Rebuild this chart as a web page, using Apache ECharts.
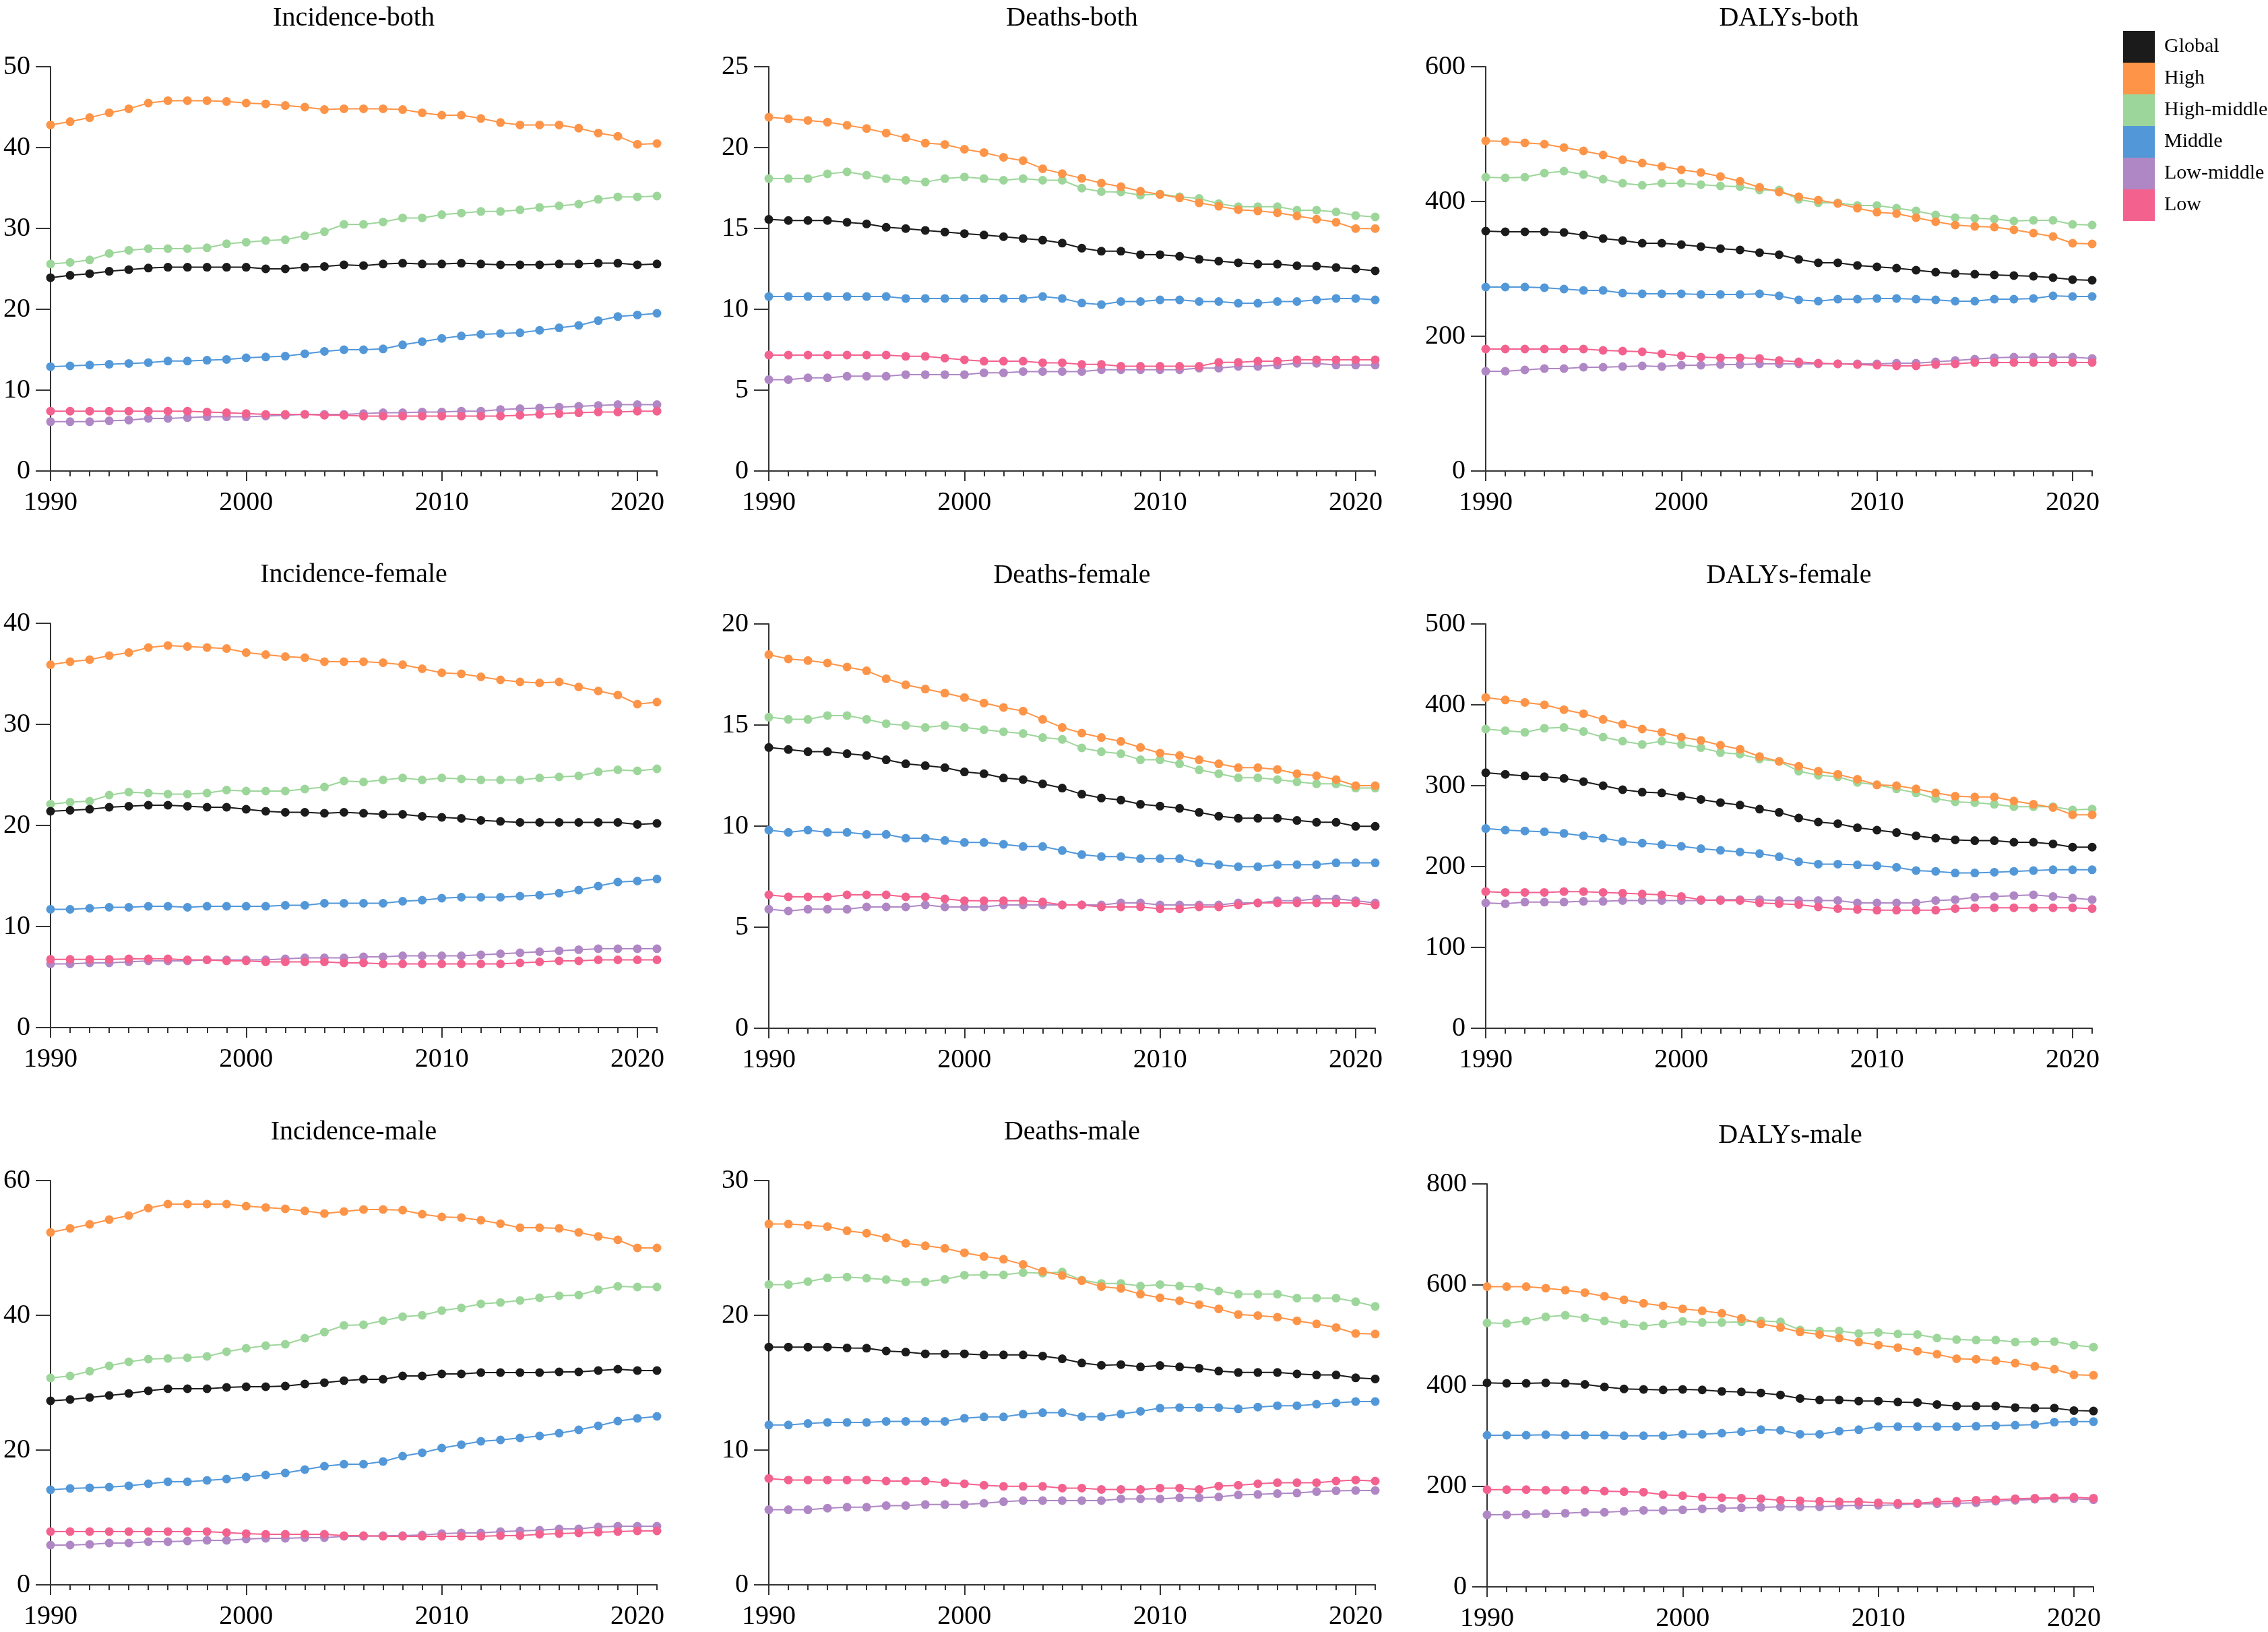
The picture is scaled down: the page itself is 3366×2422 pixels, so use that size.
<!DOCTYPE html>
<html><head><meta charset="utf-8">
<script src="https://cdn.jsdelivr.net/npm/echarts@6/dist/echarts.min.js"></script>
<style>html,body{margin:0;padding:0;background:#fff}#c{width:3366px;height:2422px}</style>
</head><body><div id="c"></div>
<script>
const years = ['1990','1991','1992','1993','1994','1995','1996','1997','1998','1999','2000','2001','2002','2003','2004','2005','2006','2007','2008','2009','2010','2011','2012','2013','2014','2015','2016','2017','2018','2019','2020','2021'];
const seriesNames = ['Global','High','High-middle','Middle','Low-middle','Low'];
const panelTitles = ['Incidence-both','Deaths-both','DALYs-both','Incidence-female','Deaths-female','DALYs-female','Incidence-male','Deaths-male','DALYs-male'];
const yMax = [50,25,600,40,20,500,60,30,800];
const yStep = [10,5,200,10,5,100,20,10,200];

// Incidence-both
const incBoth_Global = [23.9,24.2,24.4,24.7,24.9,25.1,25.2,25.2,25.2,25.2,25.2,25.0,25.0,25.2,25.3,25.5,25.4,25.6,25.7,25.6,25.6,25.7,25.6,25.5,25.5,25.5,25.6,25.6,25.7,25.7,25.5,25.6];
const incBoth_High = [42.8,43.2,43.7,44.3,44.8,45.5,45.8,45.8,45.8,45.7,45.5,45.4,45.2,45.0,44.7,44.8,44.8,44.8,44.7,44.3,44.0,44.0,43.6,43.1,42.8,42.8,42.8,42.4,41.8,41.4,40.4,40.5];
const incBoth_HighMid = [25.6,25.8,26.1,26.9,27.3,27.5,27.5,27.5,27.6,28.1,28.3,28.5,28.6,29.1,29.6,30.5,30.5,30.8,31.3,31.3,31.7,31.9,32.1,32.1,32.3,32.6,32.8,33.0,33.6,33.9,33.9,34.0];
const incBoth_Middle = [12.9,13.0,13.1,13.2,13.3,13.4,13.6,13.6,13.7,13.8,14.0,14.1,14.2,14.5,14.8,15.0,15.0,15.1,15.6,16.0,16.4,16.7,16.9,17.0,17.1,17.4,17.7,18.0,18.6,19.1,19.3,19.5];
const incBoth_LowMid = [6.1,6.1,6.1,6.2,6.3,6.5,6.5,6.6,6.7,6.7,6.7,6.8,6.9,7.0,7.0,7.0,7.1,7.2,7.2,7.3,7.3,7.4,7.4,7.6,7.7,7.8,7.9,8.0,8.1,8.2,8.2,8.2];
const incBoth_Low = [7.4,7.4,7.4,7.4,7.4,7.4,7.4,7.4,7.3,7.2,7.1,7.0,7.0,7.0,6.9,6.9,6.8,6.8,6.8,6.8,6.8,6.8,6.8,6.8,6.9,7.0,7.1,7.2,7.3,7.3,7.4,7.4];

// Deaths-both
const dthBoth_Global = [15.56,15.49,15.49,15.49,15.38,15.28,15.07,14.99,14.88,14.78,14.68,14.59,14.49,14.38,14.28,14.09,13.78,13.59,13.59,13.38,13.38,13.28,13.09,12.98,12.88,12.79,12.79,12.69,12.67,12.58,12.5,12.38];
const dthBoth_High = [21.88,21.78,21.68,21.57,21.38,21.18,20.9,20.6,20.28,20.19,19.9,19.69,19.4,19.19,18.69,18.39,18.1,17.8,17.58,17.3,17.1,16.89,16.58,16.37,16.16,16.08,15.97,15.77,15.57,15.38,14.99,14.99];
const dthBoth_HighMid = [18.08,18.08,18.08,18.37,18.5,18.29,18.08,17.98,17.87,18.08,18.18,18.08,17.98,18.08,17.98,17.98,17.49,17.27,17.25,17.06,17.13,16.96,16.85,16.53,16.34,16.34,16.34,16.13,16.13,16.02,15.8,15.71];
const dthBoth_Middle = [10.79,10.79,10.79,10.79,10.79,10.79,10.79,10.67,10.67,10.67,10.67,10.67,10.67,10.67,10.79,10.67,10.39,10.29,10.48,10.48,10.58,10.58,10.48,10.48,10.37,10.37,10.48,10.48,10.58,10.67,10.67,10.58];
const dthBoth_LowMid = [5.65,5.65,5.76,5.76,5.86,5.86,5.86,5.96,5.96,5.96,5.96,6.07,6.07,6.15,6.15,6.15,6.15,6.26,6.26,6.26,6.26,6.26,6.36,6.36,6.47,6.47,6.55,6.66,6.66,6.55,6.55,6.55];
const dthBoth_Low = [7.17,7.17,7.17,7.17,7.17,7.17,7.17,7.09,7.09,6.98,6.88,6.79,6.79,6.79,6.69,6.69,6.59,6.59,6.48,6.48,6.48,6.48,6.48,6.72,6.72,6.79,6.79,6.88,6.88,6.88,6.88,6.88];

// DALYs-both
const dalBoth_Global = [356,355,355,355,354,350,345,342,338,338,336,333,330,328,324,321,314,309,309,305,303,301,298,295,293,292,291,290,289,287,284,283];
const dalBoth_High = [490,489,487,485,480,475,469,462,457,452,447,443,437,430,421,414,407,402,397,390,384,382,376,370,365,363,362,358,353,348,338,337];
const dalBoth_HighMid = [436,435,436,442,445,440,433,427,424,427,427,425,423,422,417,417,403,398,398,394,394,390,386,380,376,375,374,371,372,372,366,365];
const dalBoth_Middle = [273,273,273,272,270,268,268,264,263,263,263,262,262,262,263,260,254,252,255,255,256,256,255,254,252,252,255,255,256,260,259,259];
const dalBoth_LowMid = [148,148,150,152,152,154,154,155,156,155,157,157,158,158,159,159,159,159,159,159,159,160,160,162,164,166,168,169,169,169,169,167];
const dalBoth_Low = [181,181,181,181,181,181,179,178,177,174,171,169,168,168,167,164,162,160,159,158,157,156,156,158,159,161,161,161,161,161,161,161];

// Incidence-female
const incFem_Global = [21.4,21.5,21.6,21.8,21.9,22.0,22.0,21.9,21.8,21.8,21.6,21.4,21.3,21.3,21.2,21.3,21.2,21.1,21.1,20.9,20.8,20.7,20.5,20.4,20.3,20.3,20.3,20.3,20.3,20.3,20.1,20.2];
const incFem_High = [35.9,36.2,36.4,36.8,37.1,37.6,37.8,37.7,37.6,37.5,37.1,36.9,36.7,36.6,36.2,36.2,36.2,36.1,35.9,35.5,35.1,35.0,34.7,34.4,34.2,34.1,34.2,33.7,33.3,32.9,32.0,32.2];
const incFem_HighMid = [22.1,22.3,22.4,23.0,23.3,23.2,23.1,23.1,23.2,23.5,23.4,23.4,23.4,23.6,23.8,24.4,24.3,24.5,24.7,24.5,24.7,24.6,24.5,24.5,24.5,24.7,24.8,24.9,25.3,25.5,25.4,25.6];
const incFem_Middle = [11.7,11.7,11.8,11.9,11.9,12.0,12.0,11.9,12.0,12.0,12.0,12.0,12.1,12.1,12.3,12.3,12.3,12.3,12.5,12.6,12.8,12.9,12.9,12.9,13.0,13.1,13.3,13.6,14.0,14.4,14.5,14.7];
const incFem_LowMid = [6.3,6.3,6.4,6.4,6.5,6.6,6.6,6.6,6.7,6.7,6.7,6.7,6.8,6.9,6.9,6.9,7.0,7.0,7.1,7.1,7.1,7.1,7.2,7.3,7.4,7.5,7.6,7.7,7.8,7.8,7.8,7.8];
const incFem_Low = [6.75,6.75,6.75,6.75,6.8,6.8,6.8,6.7,6.7,6.6,6.6,6.5,6.5,6.5,6.5,6.4,6.4,6.3,6.3,6.3,6.3,6.3,6.3,6.3,6.4,6.5,6.6,6.6,6.7,6.7,6.7,6.7];

// Deaths-female
const dthFem_Global = [13.89,13.79,13.68,13.68,13.58,13.49,13.28,13.08,12.99,12.89,12.68,12.59,12.38,12.3,12.09,11.88,11.58,11.39,11.29,11.08,10.99,10.88,10.68,10.49,10.39,10.39,10.39,10.28,10.19,10.19,9.99,9.99];
const dthFem_High = [18.48,18.27,18.19,18.07,17.87,17.68,17.29,16.99,16.78,16.58,16.36,16.09,15.87,15.69,15.28,14.88,14.6,14.38,14.19,13.89,13.61,13.49,13.28,13.08,12.89,12.89,12.8,12.59,12.49,12.3,12.0,12.0];
const dthFem_HighMid = [15.39,15.28,15.28,15.47,15.47,15.28,15.07,14.98,14.88,14.98,14.88,14.77,14.67,14.58,14.38,14.29,13.87,13.68,13.58,13.28,13.28,13.08,12.78,12.59,12.39,12.39,12.3,12.19,12.09,12.09,11.88,11.88];
const dthFem_Middle = [9.8,9.69,9.8,9.69,9.69,9.59,9.59,9.4,9.4,9.29,9.19,9.19,9.1,8.99,8.99,8.79,8.59,8.49,8.49,8.39,8.39,8.39,8.18,8.09,7.99,7.99,8.09,8.09,8.09,8.18,8.18,8.18];
const dthFem_LowMid = [5.89,5.8,5.89,5.89,5.89,6.0,6.0,6.0,6.1,6.0,6.0,6.0,6.1,6.1,6.1,6.1,6.1,6.1,6.2,6.2,6.1,6.1,6.1,6.1,6.2,6.2,6.31,6.31,6.4,6.4,6.31,6.2];
const dthFem_Low = [6.6,6.5,6.5,6.5,6.6,6.6,6.6,6.5,6.5,6.4,6.31,6.31,6.31,6.31,6.25,6.1,6.1,6.0,6.0,6.0,5.91,5.91,6.0,6.0,6.1,6.2,6.2,6.2,6.2,6.2,6.2,6.1];

// DALYs-female
const dalFem_Global = [316,314,312,311,309,305,300,295,292,291,287,283,279,276,271,267,260,255,253,248,245,242,238,235,233,232,232,230,230,228,224,224];
const dalFem_High = [409,406,403,400,394,389,382,376,370,366,360,356,350,345,336,330,324,318,314,308,301,300,296,291,287,286,286,281,277,273,264,264];
const dalFem_HighMid = [370,368,366,371,372,367,360,355,351,355,351,347,341,339,333,330,318,313,311,304,301,296,291,284,280,279,277,274,274,274,270,271];
const dalFem_Middle = [247,245,244,243,241,238,235,231,229,227,225,222,220,218,216,212,206,203,203,202,201,199,195,194,192,192,193,194,195,196,196,196];
const dalFem_LowMid = [155,154,156,156,156,157,157,158,158,158,158,158,159,159,159,158,158,158,158,155,155,155,155,158,159,162,163,164,165,163,161,159];
const dalFem_Low = [169,168,168,168,169,169,168,167,166,165,163,159,158,158,155,154,153,150,148,147,146,146,146,146,148,149,149,149,149,149,149,148];

// Incidence-male
const incMale_Global = [27.3,27.5,27.8,28.1,28.4,28.8,29.1,29.1,29.1,29.3,29.4,29.4,29.5,29.8,30.0,30.3,30.5,30.5,31.0,31.0,31.3,31.3,31.5,31.5,31.5,31.5,31.6,31.6,31.8,32.0,31.8,31.8];
const incMale_High = [52.3,52.9,53.5,54.2,54.8,55.9,56.5,56.5,56.5,56.5,56.2,56.0,55.8,55.5,55.1,55.4,55.7,55.7,55.6,55.0,54.6,54.5,54.1,53.6,53.0,53.0,52.9,52.3,51.7,51.2,50.0,50.0];
const incMale_HighMid = [30.7,31.0,31.7,32.5,33.1,33.5,33.6,33.7,33.9,34.6,35.1,35.5,35.7,36.6,37.5,38.5,38.6,39.2,39.8,40.0,40.7,41.1,41.7,41.9,42.2,42.6,42.9,43.0,43.8,44.3,44.2,44.2];
const incMale_Middle = [14.1,14.3,14.4,14.5,14.7,15.0,15.3,15.3,15.5,15.7,16.0,16.3,16.6,17.1,17.6,17.9,17.9,18.3,19.1,19.6,20.3,20.8,21.3,21.5,21.8,22.1,22.5,23.0,23.6,24.3,24.7,25.0];
const incMale_LowMid = [5.9,5.9,6.0,6.2,6.2,6.4,6.4,6.5,6.6,6.6,6.8,6.9,6.9,7.0,7.0,7.2,7.2,7.3,7.3,7.4,7.6,7.7,7.7,7.9,8.0,8.1,8.3,8.3,8.6,8.7,8.7,8.7];
const incMale_Low = [7.9,7.9,7.9,7.9,7.9,7.9,7.9,7.9,7.9,7.75,7.6,7.5,7.5,7.5,7.5,7.3,7.3,7.2,7.2,7.2,7.2,7.2,7.2,7.3,7.3,7.5,7.6,7.7,7.8,7.9,8.0,8.0];

// Deaths-male
const dthMale_Global = [17.64,17.64,17.64,17.64,17.58,17.56,17.35,17.27,17.14,17.14,17.14,17.06,17.06,17.06,16.98,16.77,16.46,16.29,16.34,16.17,16.27,16.17,16.07,15.86,15.76,15.76,15.76,15.65,15.57,15.57,15.36,15.28];
const dthMale_High = [26.77,26.77,26.69,26.58,26.27,26.09,25.76,25.34,25.16,24.97,24.64,24.37,24.16,23.77,23.27,22.96,22.57,22.13,21.99,21.57,21.3,21.08,20.79,20.48,20.06,19.98,19.86,19.59,19.36,19.09,18.65,18.61];
const dthMale_HighMid = [22.28,22.28,22.5,22.77,22.84,22.75,22.65,22.48,22.48,22.67,22.98,23.0,23.0,23.17,23.13,23.21,22.61,22.36,22.36,22.17,22.28,22.17,22.09,21.8,21.57,21.57,21.57,21.28,21.28,21.28,21.01,20.66];
const dthMale_Middle = [11.86,11.86,11.97,12.05,12.05,12.05,12.13,12.13,12.13,12.13,12.36,12.46,12.46,12.67,12.77,12.77,12.48,12.48,12.67,12.88,13.11,13.15,13.15,13.15,13.06,13.19,13.29,13.29,13.4,13.5,13.6,13.6];
const dthMale_LowMid = [5.57,5.57,5.57,5.69,5.76,5.76,5.88,5.88,5.96,5.96,5.96,6.05,6.17,6.25,6.25,6.25,6.25,6.25,6.38,6.38,6.38,6.46,6.46,6.52,6.67,6.71,6.77,6.81,6.92,6.98,7.0,7.0];
const dthMale_Low = [7.89,7.78,7.78,7.78,7.78,7.78,7.7,7.7,7.7,7.58,7.5,7.39,7.31,7.31,7.31,7.18,7.18,7.08,7.08,7.08,7.18,7.18,7.08,7.33,7.39,7.5,7.58,7.58,7.58,7.7,7.78,7.7];

// DALYs-male
const dalMale_Global = [405,404,404,405,404,402,397,393,392,391,392,391,388,387,385,381,374,371,371,369,369,367,366,362,359,359,359,356,355,355,350,349];
const dalMale_High = [596,596,596,593,589,584,577,570,563,558,552,548,543,533,522,515,506,501,494,486,480,475,468,462,453,452,449,444,438,432,421,420];
const dalMale_HighMid = [524,523,528,536,539,534,528,522,518,522,527,525,525,526,528,526,510,508,508,503,505,502,501,494,491,490,490,486,487,487,480,476];
const dalMale_Middle = [301,301,301,302,301,301,301,300,300,300,303,303,305,308,312,311,303,303,309,312,318,318,318,318,318,319,320,321,322,327,328,328];
const dalMale_LowMid = [143,143,144,145,146,148,148,150,152,152,153,155,156,157,158,159,159,159,161,162,162,163,165,165,166,167,170,172,174,175,175,173];
const dalMale_Low = [193,193,193,192,192,192,190,189,188,183,181,178,177,176,175,172,171,170,169,169,167,166,166,169,170,172,173,175,176,177,178,176];

const panelSeries = [
  [incBoth_Global, incBoth_High, incBoth_HighMid, incBoth_Middle, incBoth_LowMid, incBoth_Low],
  [dthBoth_Global, dthBoth_High, dthBoth_HighMid, dthBoth_Middle, dthBoth_LowMid, dthBoth_Low],
  [dalBoth_Global, dalBoth_High, dalBoth_HighMid, dalBoth_Middle, dalBoth_LowMid, dalBoth_Low],
  [incFem_Global, incFem_High, incFem_HighMid, incFem_Middle, incFem_LowMid, incFem_Low],
  [dthFem_Global, dthFem_High, dthFem_HighMid, dthFem_Middle, dthFem_LowMid, dthFem_Low],
  [dalFem_Global, dalFem_High, dalFem_HighMid, dalFem_Middle, dalFem_LowMid, dalFem_Low],
  [incMale_Global, incMale_High, incMale_HighMid, incMale_Middle, incMale_LowMid, incMale_Low],
  [dthMale_Global, dthMale_High, dthMale_HighMid, dthMale_Middle, dthMale_LowMid, dthMale_Low],
  [dalMale_Global, dalMale_High, dalMale_HighMid, dalMale_Middle, dalMale_LowMid, dalMale_Low]
];

// ---- styling / layout ----
const colors = ['#1b1b1b','#fd9447','#9dd69a','#5298d9','#b087c5','#f3628f'];
const FONT = "'Liberation Serif','Times New Roman',serif";
const gridLeft = [75, 1141, 2205, 75, 1141, 2205, 75, 1141, 2207];
const gridTop = [99, 99, 99, 925, 926, 926, 1752, 1752, 1757];
const gridW = 900, gridH = 600;
const drawOrder = [4, 5, 3, 2, 1, 0];

const grids = [], xAxes = [], yAxes = [], series = [], titles = [];
panelTitles.forEach((t, p) => {
  grids.push({left: gridLeft[p], top: gridTop[p], width: gridW, height: gridH, containLabel: false});
  titles.push({
    text: t, left: gridLeft[p] + gridW / 2, top: gridTop[p] - 92, textAlign: 'center', padding: 0,
    textStyle: {fontFamily: FONT, fontSize: 40, fontWeight: 'normal', color: '#000'}
  });
  // yearly ticks + axis line
  xAxes.push({
    type: 'category', gridIndex: p, data: years, boundaryGap: false, position: 'bottom',
    axisLine: {show: true, onZero: false, lineStyle: {color: '#333', width: 2}},
    axisTick: {show: true, interval: 0, length: 8, lineStyle: {color: '#333', width: 2}},
    axisLabel: {show: false}, splitLine: {show: false}
  });
  // decade ticks + labels
  xAxes.push({
    type: 'category', gridIndex: p, data: years, boundaryGap: false, position: 'bottom',
    axisLine: {show: false, onZero: false},
    axisTick: {show: true, interval: 9, length: 15, lineStyle: {color: '#333', width: 2}},
    axisLabel: {show: true, interval: 9, margin: 27, fontFamily: FONT, fontSize: 40, color: '#000'},
    splitLine: {show: false}
  });
  yAxes.push({
    type: 'value', gridIndex: p, min: 0, max: yMax[p], interval: yStep[p],
    axisLine: {show: true, lineStyle: {color: '#333', width: 2}},
    axisTick: {show: true, length: 22, lineStyle: {color: '#333', width: 2}},
    axisLabel: {margin: 30, fontFamily: FONT, fontSize: 40, color: '#000'},
    splitLine: {show: false}
  });
  drawOrder.forEach(s => {
    series.push({
      name: seriesNames[s], type: 'line', xAxisIndex: p * 2, yAxisIndex: p,
      data: panelSeries[p][s], symbol: 'circle', symbolSize: 13, showSymbol: true,
      lineStyle: {color: colors[s], width: 2},
      itemStyle: {color: colors[s]},
      emphasis: {disabled: true}
    });
  });
});

const chart = echarts.init(document.getElementById('c'), null, {renderer: 'canvas'});
chart.setOption({
  animation: false,
  backgroundColor: '#fff',
  color: colors,
  title: titles,
  legend: {
    data: seriesNames.map((n, i) => ({name: n, itemStyle: {color: colors[i]}})),
    orient: 'vertical', left: 3151, top: 46, itemWidth: 47, itemHeight: 47, itemGap: 0,
    icon: 'rect', selectedMode: false, padding: 0,
    textStyle: {fontFamily: FONT, fontSize: 30, color: '#000', padding: [6, 0, 0, 9]}
  },
  grid: grids, xAxis: xAxes, yAxis: yAxes, series: series
});
</script></body></html>
